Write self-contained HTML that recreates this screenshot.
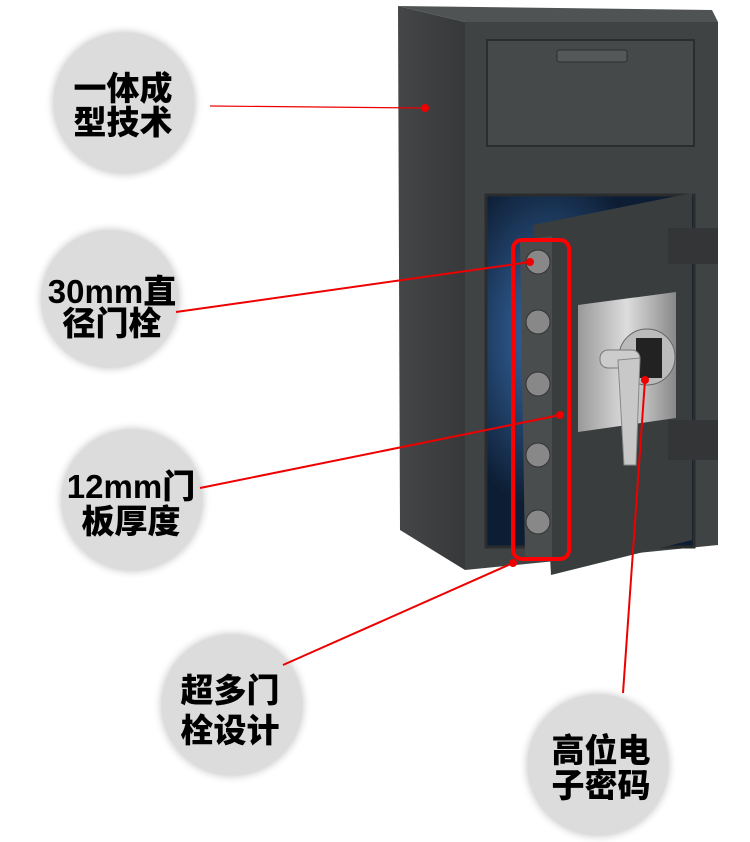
<!DOCTYPE html>
<html><head><meta charset="utf-8"><style>
html,body{margin:0;padding:0;background:#fff;width:750px;height:842px;overflow:hidden}
svg{display:block}
text{font-family:"Liberation Sans","Noto Sans CJK SC",sans-serif;font-weight:900;fill:#000;text-anchor:middle}
</style></head><body>
<svg width="750" height="842" viewBox="0 0 750 842">
<defs>
<radialGradient id="sh"><stop offset="0.85" stop-color="#ccc"/><stop offset="1" stop-color="#fff" stop-opacity="0"/></radialGradient>
<linearGradient id="side" x1="0" x2="1"><stop offset="0" stop-color="#444647"/><stop offset="1" stop-color="#363839"/></linearGradient>
<radialGradient id="blue" cx="0.3" cy="0.4"><stop offset="0" stop-color="#3a6fae"/><stop offset="1" stop-color="#0d1d33"/></radialGradient>
<linearGradient id="steel" x1="0" x2="1"><stop offset="0" stop-color="#999"/><stop offset="0.5" stop-color="#ddd"/><stop offset="1" stop-color="#888"/></linearGradient>
</defs>
<g>
<circle cx="124" cy="103" r="80" fill="url(#sh)"/><circle cx="124" cy="103" r="70" fill="#dcdcdc"/>
<circle cx="110" cy="299" r="78" fill="url(#sh)"/><circle cx="110" cy="299" r="68" fill="#dcdcdc"/>
<circle cx="132" cy="500" r="80" fill="url(#sh)"/><circle cx="132" cy="500" r="70" fill="#dcdcdc"/>
<circle cx="232" cy="705" r="80" fill="url(#sh)"/><circle cx="232" cy="705" r="70" fill="#dcdcdc"/>
<circle cx="598" cy="765" r="80" fill="url(#sh)"/><circle cx="598" cy="765" r="70" fill="#dcdcdc"/>
</g>
<g font-size="33">
<text x="123" y="100">一体成</text><text x="123" y="134">型技术</text>
<text x="112" y="303">30mm直</text><text x="112" y="335">径门栓</text>
<text x="131" y="498">12mm门</text><text x="131" y="533">板厚度</text>
<text x="230" y="702">超多门</text><text x="230" y="742">栓设计</text>
<text x="601" y="762">高位电</text><text x="601" y="797">子密码</text>
</g>
<polygon points="398,6 712,10 718,22 465,22" fill="#505354"/>
<polygon points="398,6 465,22 465,570 400,530" fill="url(#side)"/>
<polygon points="465,22 718,22 718,545 465,570" fill="#404344"/>
<rect x="487" y="40" width="207" height="106" fill="#464949" stroke="#2a2c2d" stroke-width="2"/>
<rect x="557" y="50" width="70" height="12" rx="2" fill="#555859" stroke="#2a2c2d"/>
<rect x="486" y="195" width="208" height="352" fill="url(#blue)" stroke="#2a2c2d" stroke-width="3"/>
<polygon points="533,225 692,193 692,540 551,575" fill="#3a3d3e"/>
<polygon points="520,240 552,236 552,560 525,556" fill="#4a4d4e"/>
<rect x="668" y="228" width="50" height="36" fill="#333536"/>
<rect x="668" y="420" width="50" height="40" fill="#333536"/>
<polygon points="578,305 676,292 676,418 578,432" fill="url(#steel)"/>
<circle cx="647" cy="357" r="28" fill="#bbb" stroke="#666"/>
<rect x="636" y="338" width="26" height="40" fill="#222"/>
<rect x="600" y="350" width="40" height="18" rx="8" fill="#ccc" stroke="#777"/>
<polygon points="618,360 640,358 636,465 624,465" fill="#c8c8c8" stroke="#888"/>
<g fill="#888" stroke="#333">
<circle cx="538" cy="262" r="12"/><circle cx="538" cy="322" r="12"/><circle cx="538" cy="384" r="12"/><circle cx="538" cy="455" r="12"/><circle cx="538" cy="522" r="12"/>
</g>
<rect x="513" y="240" width="56" height="319" rx="9" fill="none" stroke="#f00" stroke-width="4"/>
<g stroke="#e00" stroke-width="2">
<line x1="210" y1="106" x2="425" y2="108" stroke-width="1.2"/>
<line x1="176" y1="312" x2="530" y2="262"/>
<line x1="200" y1="488" x2="560" y2="415"/>
<line x1="283" y1="665" x2="513" y2="563"/>
<line x1="623" y1="693" x2="645" y2="380"/>
</g>
<g fill="#e00">
<circle cx="425" cy="108" r="4"/><circle cx="530" cy="262" r="4"/><circle cx="560" cy="415" r="4"/><circle cx="513" cy="563" r="4"/><circle cx="645" cy="380" r="4"/>
</g>
</svg>
</body></html>
